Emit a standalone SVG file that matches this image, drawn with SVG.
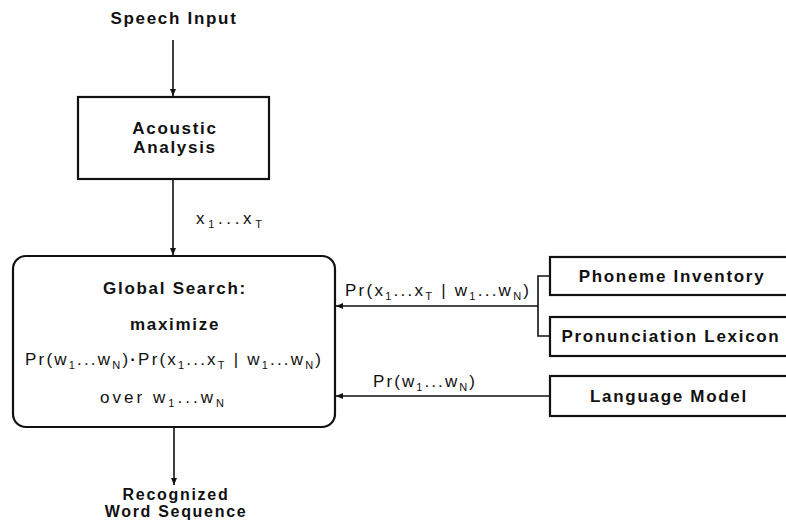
<svg xmlns="http://www.w3.org/2000/svg" width="786" height="520" viewBox="0 0 786 520">
<defs>
<marker id="ah" markerWidth="8" markerHeight="8" refX="7" refY="4" orient="auto" markerUnits="userSpaceOnUse">
<path d="M0,1 L7,4 L0,7 Z" fill="#111"/>
</marker>
<style>
.box{fill:#fff;stroke:#111;stroke-width:2.2}
.lbl{font-family:"Liberation Sans",Arial,sans-serif;font-weight:bold;font-size:17px;letter-spacing:1.7px;fill:#111;text-anchor:middle}
.math{font-family:"Liberation Sans",Arial,sans-serif;font-size:17px;fill:#111}
.sub{font-size:11px}
.conn{fill:none;stroke:#111;stroke-width:1.6}
</style>
</defs>
<rect width="786" height="520" fill="#fff"/>

<g id="connectors">
<line class="conn" x1="173" y1="40" x2="173" y2="96" marker-end="url(#ah)"/>
<line class="conn" x1="173" y1="179" x2="173" y2="255" marker-end="url(#ah)"/>
<line class="conn" x1="174" y1="427" x2="174" y2="485" marker-end="url(#ah)"/>
<polyline class="conn" points="550,276 538,276 538,336 550,336"/>
<line class="conn" x1="538" y1="306" x2="336" y2="306" marker-end="url(#ah)"/>
<line class="conn" x1="550" y1="396" x2="336" y2="396" marker-end="url(#ah)"/>
<text class="math" x="196" y="224" textLength="66" lengthAdjust="spacing">x<tspan class="sub" dy="4">1</tspan><tspan dy="-4">...x</tspan><tspan class="sub" dy="4">T</tspan></text>
<text class="math" x="345" y="296" textLength="184" lengthAdjust="spacing">Pr(x<tspan class="sub" dy="4">1</tspan><tspan dy="-4">...x</tspan><tspan class="sub" dy="4">T</tspan><tspan dy="-4"> | w</tspan><tspan class="sub" dy="4">1</tspan><tspan dy="-4">...w</tspan><tspan class="sub" dy="4">N</tspan><tspan dy="-4">)</tspan></text>
<text class="math" x="373" y="387" textLength="102" lengthAdjust="spacing">Pr(w<tspan class="sub" dy="4">1</tspan><tspan dy="-4">...w</tspan><tspan class="sub" dy="4">N</tspan><tspan dy="-4">)</tspan></text>
</g>

<g id="speech-input">
<text class="lbl" x="174" y="24">Speech Input</text>
</g>

<g id="acoustic-analysis">
<rect class="box" x="78" y="97" width="191" height="82"/>
<text class="lbl" x="175" y="134">Acoustic</text>
<text class="lbl" x="175" y="153">Analysis</text>
</g>

<g id="global-search">
<rect class="box" x="13" y="256" width="322" height="171" rx="13" ry="13"/>
<text class="lbl" x="175" y="294">Global Search:</text>
<text class="lbl" x="175" y="330">maximize</text>
<text class="math" x="25" y="365" textLength="296" lengthAdjust="spacing">Pr(w<tspan class="sub" dy="4">1</tspan><tspan dy="-4">...w</tspan><tspan class="sub" dy="4">N</tspan><tspan dy="-4">)</tspan><tspan font-weight="bold">·</tspan>Pr(x<tspan class="sub" dy="4">1</tspan><tspan dy="-4">...x</tspan><tspan class="sub" dy="4">T</tspan><tspan dy="-4"> | w</tspan><tspan class="sub" dy="4">1</tspan><tspan dy="-4">...w</tspan><tspan class="sub" dy="4">N</tspan><tspan dy="-4">)</tspan></text>
<text class="math" x="100" y="403" textLength="124" lengthAdjust="spacing">over  w<tspan class="sub" dy="4">1</tspan><tspan dy="-4">...w</tspan><tspan class="sub" dy="4">N</tspan></text>
</g>

<g id="phoneme-inventory">
<rect class="box" x="550" y="257" width="260" height="38"/>
<text class="lbl" x="672" y="282">Phoneme Inventory</text>
</g>

<g id="pronunciation-lexicon">
<rect class="box" x="550" y="317" width="260" height="39"/>
<text class="lbl" x="671" y="342">Pronunciation Lexicon</text>
</g>

<g id="language-model">
<rect class="box" x="550" y="376" width="260" height="40"/>
<text class="lbl" x="669" y="402">Language Model</text>
</g>

<g id="recognized-word-sequence">
<text class="lbl" x="176" y="500" style="font-size:16px">Recognized</text>
<text class="lbl" x="176" y="517" style="font-size:16px">Word Sequence</text>
</g>
</svg>
